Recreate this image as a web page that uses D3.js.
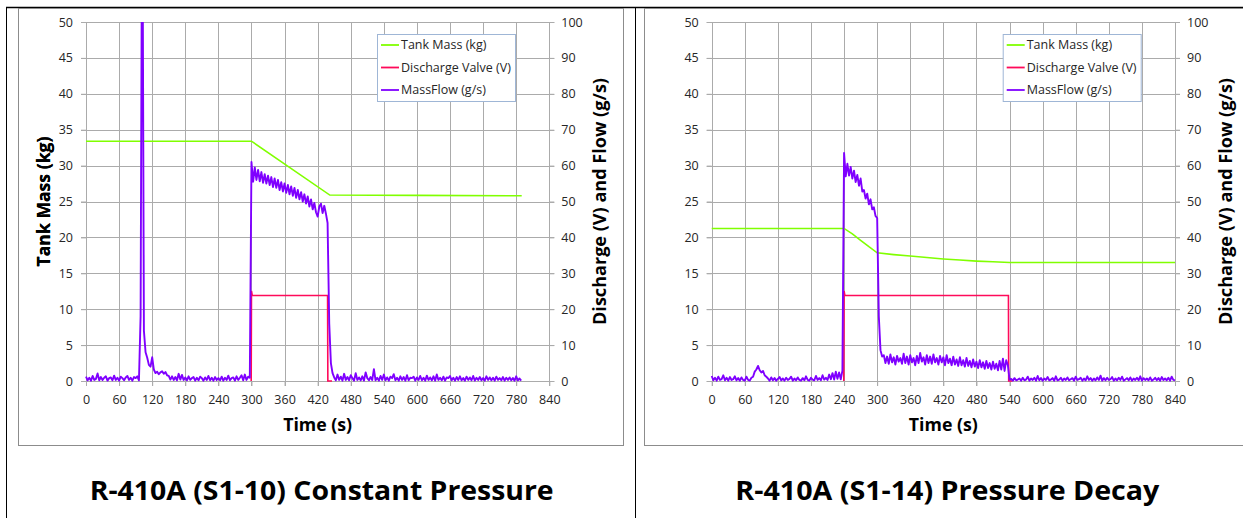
<!DOCTYPE html>
<html>
<head>
<meta charset="utf-8">
<script src="https://cdn.jsdelivr.net/npm/d3@7"></script>
<style>
  body { margin: 0; background: #fff; }
  svg { display: block; }
  text { font-family: "Open Sans", "Noto Sans", sans-serif; }
</style>
</head>
<body>
<svg id="fig" width="1243" height="518"></svg>
<script>
// ---- shared axis ticks ----
const TIME_TICKS = [0, 60, 120, 180, 240, 300, 360, 420, 480, 540, 600, 660, 720, 780, 840];
const MASS_TICKS = [0, 5, 10, 15, 20, 25, 30, 35, 40, 45, 50];
const FLOW_TICKS = [0, 10, 20, 30, 40, 50, 60, 70, 80, 90, 100];
const SERIES_NAMES = ["Tank Mass (kg)", "Discharge Valve (V)", "MassFlow (g/s)"];
const FLOW_STEP_S = 3; // mass-flow logger sample period (s)

// ---- S1-10, constant pressure ----
const s110MassTime = [0, 300, 442, 600, 790];
const s110MassKg   = [33.4, 33.4, 25.9, 25.85, 25.8];
const s110ValveTime = [299.5, 300, 301.5, 438, 438.5, 446];
const s110ValveV    = [0, 25.1, 23.8, 23.8, 0, 0];
const s110Flow = [
  // 0-96 s
  1.2,0.2,0.9,0.1,1.4,0.3,0.6,2.1,0.2,1.1,
  0.3,0.9,1.3,0.1,0.8,1.0,0.2,1.5,0.3,0.9,
  0.1,1.2,0.8,0.2,1.0,1.4,0.3,0.9,0.1,1.1,
  0.8,1.3,0.2,
  // 99-177 s
  18,150,14,8,6.5,4.5,4,6.6,3.2,2.2,
  2.6,1.9,2.4,2.7,2.0,2.5,1.6,1.4,0.4,1.3,
  0.3,1.1,0.2,2.0,0.4,1.7,0.3,
  // 180-297 s
  1.0,0.2,1.3,0.3,0.8,1.1,0.1,0.9,0.2,1.2,
  0.8,0.1,1.0,0.3,1.4,0.2,0.9,0.1,1.1,0.3,
  0.8,0.2,1.2,0.1,0.9,0.3,1.5,0.2,0.8,1.0,
  0.1,1.3,0.3,0.9,1.6,0.2,1.8,0.3,1.2,0.9,
  // 300-435 s
  61,55.5,59.5,56,58.8,55.6,58.2,55.2,57.6,55,
  57.2,54.6,56.8,54,56.4,53.8,56,53.2,55.4,52.8,
  55,52.4,54.6,52,54.2,51.6,53.8,51,53.2,50.6,
  52.6,50,52,49.4,51.4,48.6,50.6,47.8,49.6,47,
  45.8,48.6,49.4,46.8,48.8,46.6,
  // 438-450 s
  44,16,5,2.2,1.0,
  // 453-789 s
  0.2,1.8,0.3,1.2,0.1,2.0,0.3,1.1,0.2,1.6,
  0.8,0.1,2.2,0.3,1.0,0.2,1.3,0.1,2.4,0.8,
  0.2,1.1,0.3,3.3,0.2,0.9,0.1,1.4,0.3,1.8,
  0.2,1.0,0.1,1.2,0.8,1.9,0.2,0.9,0.1,1.3,
  0.3,1.1,0.1,1.6,0.2,0.9,0.8,1.2,0.1,1.0,
  0.3,1.4,0.2,0.9,0.1,1.5,0.3,1.0,0.2,1.3,
  0.1,1.8,0.3,0.9,0.2,1.2,0.1,1.0,0.8,1.4,
  0.2,0.9,0.1,1.1,0.3,1.3,0.2,0.8,0.1,1.2,
  0.3,1.0,0.2,1.4,0.1,0.9,0.3,1.1,0.2,0.8,
  0.1,1.3,0.3,1.0,0.2,0.9,0.1,1.2,0.3,0.8,
  0.2,1.1,0.1,0.9,0.3,1.0,0.2,0.8,0.1,1.3,
  0.2,0.7,0.1
];

// ---- S1-14, pressure decay ----
const s114MassTime = [0, 240, 255, 270, 285, 300, 330, 360, 390, 420, 450, 480, 510, 540, 840];
const s114MassKg   = [21.25, 21.25, 20.5, 19.6, 18.7, 17.85, 17.6, 17.4, 17.2, 17.0, 16.85, 16.7, 16.6, 16.5, 16.5];
const s114ValveTime = [239.5, 240, 241.5, 538, 538.5, 545];
const s114ValveV    = [0, 25.1, 23.8, 23.8, 0, 0];
const s114Flow = [
  // 0-72 s
  1.4,0.2,0.9,0.1,1.2,0.3,0.5,1.6,0.2,0.9,
  0.1,1.1,0.3,0.5,1.3,0.2,0.8,0.1,1.0,0.3,
  0.1,1.2,0.3,0.1,0.9,
  // 75-99 s
  1.2,2.6,3.2,4.2,3.0,2.4,2.8,1.6,1.2,
  // 102-216 s
  0.7,0.1,1.0,0.2,0.8,0.1,0.6,1.1,0.2,0.7,
  0.1,0.9,0.3,0.6,1.2,0.1,0.7,0.2,1.0,0.3,
  0.1,0.8,0.2,1.3,0.3,0.1,0.9,0.4,0.2,1.4,
  0.3,0.8,0.2,1.6,0.4,0.9,0.3,1.8,0.5,
  // 219-237 s
  2.2,0.4,2.6,0.6,2.4,0.5,2.9,
  // 240-300 s
  63.5,57,60.5,57.2,59.6,56.4,58.6,55.4,57.4,54.4,
  56.4,52.8,53.2,50.8,52.2,49.2,50.6,47.8,48.4,46,
  45.4,
  // 303-309 s
  18,8.6,6.8,
  // 312-534 s
  7.2,5.0,6.8,4.8,7.4,5.2,6.6,4.6,7.0,5.4,
  6.4,4.8,7.6,5.0,6.8,4.6,7.2,5.2,6.4,4.4,
  7.0,5.0,7.8,5.4,6.6,4.6,7.2,5.0,6.8,4.8,
  7.4,5.2,6.4,4.6,7.0,5.2,6.6,4.4,7.2,5.0,
  6.2,4.4,6.8,4.6,6.0,4.2,6.6,4.4,5.8,4.0,
  6.4,4.2,5.6,3.8,6.0,4.0,5.4,3.6,5.8,3.8,
  5.2,3.4,5.6,3.6,5.0,3.2,5.4,3.4,4.8,3.0,
  5.6,3.2,6.2,2.8,5.8,
  // 537 s
  4.4,
  // 540-840 s
  0.4,0.6,0.1,0.8,0.2,0.4,0.7,0.1,0.9,0.2,
  0.4,1.2,0.1,0.7,0.3,0.9,0.1,1.4,0.2,0.8,
  0.1,0.7,0.3,1.1,0.2,0.4,0.8,0.1,1.3,0.2,
  0.4,0.9,0.1,0.7,0.3,1.0,0.2,0.5,0.8,0.1,
  1.2,0.3,0.5,0.9,0.1,0.7,0.2,1.3,0.3,0.8,
  0.1,0.7,0.2,1.0,0.3,1.5,0.1,0.8,0.2,0.9,
  0.3,0.5,1.1,0.1,0.7,0.2,0.9,0.3,1.2,0.1,
  0.4,0.8,0.2,1.0,0.1,0.7,0.3,0.9,0.2,1.3,
  0.1,0.8,0.3,0.7,0.2,1.0,0.1,0.4,0.9,0.2,
  0.8,0.1,1.1,0.3,0.7,0.2,0.9,0.1,1.2,0.3,
  0.2
];

// ---- styling ----
const COLORS = { mass: "#80ff00", valve: "#ff0a5a", flow: "#7f00ff" };
const GRID = "#ababab";
const FRAME = "#8c8c8c";
const INK = "#262626";

const svg = d3.select("#fig");

// page table lines
svg.append("line").attr("x1", 6).attr("x2", 1243).attr("y1", 7.5).attr("y2", 7.5).attr("stroke", "#000").attr("stroke-width", 1.3);
svg.append("line").attr("x1", 6.5).attr("x2", 6.5).attr("y1", 7).attr("y2", 518).attr("stroke", "#000");
svg.append("line").attr("x1", 635.5).attr("x2", 635.5).attr("y1", 7).attr("y2", 518).attr("stroke", "#000");

const panels = [
  { id: "s110", frameX: 18, frameW: 605, left: 86, caption: "R-410A (S1-10) Constant Pressure", captionW: 464,
    massT: s110MassTime, massV: s110MassKg, valveT: s110ValveTime, valveV: s110ValveV, flow: s110Flow, legendX: 377 },
  { id: "s114", frameX: 644, frameW: 620, left: 711.7, caption: "R-410A (S1-14) Pressure Decay", captionW: 424,
    massT: s114MassTime, massV: s114MassKg, valveT: s114ValveTime, valveV: s114ValveV, flow: s114Flow, legendX: 1002.7 }
];

const PLOT_W = 463.3, PLOT_TOP = 22, PLOT_BOTTOM = 381;

function fitText(sel, width) {
  sel.attr("textLength", width).attr("lengthAdjust", "spacingAndGlyphs");
}

panels.forEach(p => {
  const g = svg.append("g");
  const x = d3.scaleLinear().domain([0, 840]).range([p.left, p.left + PLOT_W]);
  const yMass = d3.scaleLinear().domain([0, 50]).range([PLOT_BOTTOM, PLOT_TOP]);
  const yFlow = d3.scaleLinear().domain([0, 100]).range([PLOT_BOTTOM, PLOT_TOP]);

  // chart frame
  g.append("rect").attr("x", p.frameX + 0.5).attr("y", 8.5).attr("width", p.frameW).attr("height", 437)
    .attr("fill", "#fff").attr("stroke", FRAME);

  // grid
  g.append("g").selectAll("line").data(TIME_TICKS).join("line")
    .attr("x1", d => Math.round(x(d)) + 0.5).attr("x2", d => Math.round(x(d)) + 0.5)
    .attr("y1", PLOT_TOP).attr("y2", PLOT_BOTTOM + 5).attr("stroke", GRID);
  g.append("g").selectAll("line").data(MASS_TICKS).join("line")
    .attr("x1", p.left - 5).attr("x2", p.left + PLOT_W + 5)
    .attr("y1", d => Math.round(yMass(d)) + 0.5).attr("y2", d => Math.round(yMass(d)) + 0.5)
    .attr("stroke", GRID);

  // axes
  const axL = g.append("g").attr("transform", `translate(${p.left},0)`)
    .call(d3.axisLeft(yMass).tickValues(MASS_TICKS).tickSize(5).tickPadding(8));
  const axR = g.append("g").attr("transform", `translate(${p.left + PLOT_W},0)`)
    .call(d3.axisRight(yFlow).tickValues(FLOW_TICKS).tickSize(5).tickPadding(7));
  const axB = g.append("g").attr("transform", `translate(0,${PLOT_BOTTOM})`)
    .call(d3.axisBottom(x).tickValues(TIME_TICKS).tickSize(5).tickPadding(9));
  [axL, axR, axB].forEach(a => {
    a.select(".domain").remove();
    a.selectAll(".tick line").attr("stroke", GRID);
    a.selectAll("text").attr("font-size", 12.5).attr("fill", INK)
      .attr("font-family", '"Open Sans", sans-serif');
  });

  // axis titles
  g.append("text").attr("transform", `translate(50,201.5) rotate(-90)`)
    .attr("text-anchor", "middle").attr("font-size", 18).attr("font-weight", 700).attr("fill", "#000")
    .text("Tank Mass (kg)").call(fitText, 130);
  g.append("text").attr("transform", `translate(${p.left + PLOT_W + 57},201.5) rotate(-90)`)
    .attr("text-anchor", "middle").attr("font-size", 18).attr("font-weight", 700).attr("fill", "#000")
    .text("Discharge (V) and Flow (g/s)").call(fitText, 247);
  g.append("text").attr("x", p.left + PLOT_W / 2).attr("y", 431)
    .attr("text-anchor", "middle").attr("font-size", 18).attr("font-weight", 700).attr("fill", "#000")
    .text("Time (s)").call(fitText, 69);

  // series
  const clipId = "clip-" + p.id;
  g.append("clipPath").attr("id", clipId).append("rect")
    .attr("x", p.left - 2).attr("y", PLOT_TOP).attr("width", PLOT_W + 4).attr("height", PLOT_BOTTOM - PLOT_TOP + 2);
  const plot = g.append("g").attr("clip-path", `url(#${clipId})`);

  const massPts = p.massT.map((t, i) => [t, p.massV[i]]);
  const valvePts = p.valveT.map((t, i) => [t, p.valveV[i]]);
  const flowPts = p.flow.map((v, i) => [i * FLOW_STEP_S, v]);

  plot.append("path").datum(massPts)
    .attr("d", d3.line().x(d => x(d[0])).y(d => yMass(d[1])))
    .attr("fill", "none").attr("stroke", COLORS.mass).attr("stroke-width", 1.6);
  plot.append("path").datum(valvePts)
    .attr("d", d3.line().x(d => x(d[0])).y(d => yFlow(d[1])))
    .attr("fill", "none").attr("stroke", COLORS.valve).attr("stroke-width", 1.6);
  plot.append("path").datum(flowPts)
    .attr("d", d3.line().x(d => x(d[0])).y(d => yFlow(d[1])))
    .attr("fill", "none").attr("stroke", COLORS.flow).attr("stroke-width", 1.9).attr("stroke-linejoin", "round");

  // legend
  const lg = g.append("g").attr("transform", `translate(${p.legendX},34)`);
  lg.append("rect").attr("x", 0.5).attr("y", 0.5).attr("width", 138).attr("height", 67)
    .attr("fill", "#fff").attr("stroke", "#9fb6d6");
  const lcolors = [COLORS.mass, COLORS.valve, COLORS.flow];
  SERIES_NAMES.forEach((name, i) => {
    const cy = 11 + i * 22.5;
    lg.append("line").attr("x1", 4).attr("x2", 22).attr("y1", cy).attr("y2", cy)
      .attr("stroke", lcolors[i]).attr("stroke-width", 1.8);
    lg.append("text").attr("x", 24).attr("y", cy).attr("dy", "0.35em")
      .attr("font-size", 12.5).attr("fill", INK).text(name);
  });

  // caption below the chart
  svg.append("text").attr("x", x(420) + 4).attr("y", 500)
    .attr("text-anchor", "middle").attr("font-size", 26).attr("font-weight", 700).attr("fill", "#000")
    .text(p.caption).call(fitText, p.captionW);
});
</script>
</body>
</html>
